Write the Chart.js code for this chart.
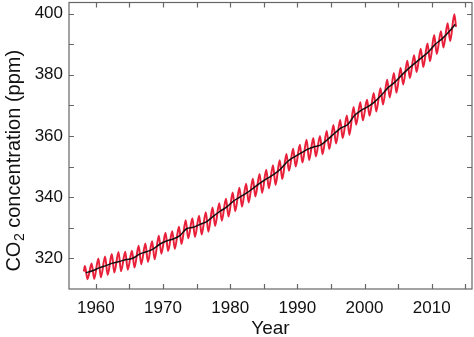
<!DOCTYPE html>
<html>
<head>
<meta charset="utf-8">
<script src="https://cdn.jsdelivr.net/npm/chart.js@4.4.1/dist/chart.umd.min.js"></script>
<style>
  html, body { margin: 0; padding: 0; background: #fff; }
  #wrap { width: 474px; height: 337px; }
</style>
</head>
<body>
<div id="wrap"><canvas id="co2Chart" width="474" height="337"></canvas></div>
<script>
// Mauna Loa CO2, ppm
const years = [
  1958, 1959, 1960, 1961, 1962, 1963, 1964, 1965, 1966, 1967,
  1968, 1969, 1970, 1971, 1972, 1973, 1974, 1975, 1976, 1977,
  1978, 1979, 1980, 1981, 1982, 1983, 1984, 1985, 1986, 1987,
  1988, 1989, 1990, 1991, 1992, 1993, 1994, 1995, 1996, 1997,
  1998, 1999, 2000, 2001, 2002, 2003, 2004, 2005, 2006, 2007,
  2008, 2009, 2010, 2011, 2012, 2013
];
// yearly mean (black line)
const annualMean = [
  315.3, 315.97, 316.91, 317.64, 318.45, 318.99, 319.62, 320.04, 321.38, 322.16,
  323.04, 324.62, 325.68, 326.32, 327.45, 329.68, 330.18, 331.11, 332.04, 333.83,
  335.40, 336.84, 338.75, 340.11, 341.45, 343.05, 344.65, 346.12, 347.42, 349.19,
  351.57, 353.12, 354.39, 355.61, 356.45, 357.10, 358.83, 360.82, 362.61, 363.73,
  366.70, 368.38, 369.55, 371.14, 373.28, 375.80, 377.52, 379.80, 381.90, 383.79,
  385.60, 387.43, 389.90, 391.65, 393.85, 396.52
];
// seasonal high (May) of each year
const mayPeak = [
  317.5, 318.3, 320.0, 320.6, 321.4, 322.1, 322.2, 322.5, 324.1, 324.9,
  325.6, 327.4, 328.4, 328.9, 330.3, 332.5, 333.1, 333.9, 335.1, 336.6,
  338.0, 339.5, 341.5, 343.1, 344.4, 346.0, 347.6, 349.0, 350.4, 352.1,
  354.1, 355.8, 357.1, 358.8, 359.3, 360.0, 361.6, 363.6, 365.2, 366.7,
  369.5, 371.0, 371.8, 374.0, 375.6, 378.4, 380.6, 382.2, 384.6, 386.4,
  388.5, 390.2, 393.0, 394.2, 396.8, 399.8
];
// seasonal low (Sep/Oct), 1958-2012
const autumnLow = [
  313.2, 313.3, 313.8, 314.6, 315.4, 315.8, 316.3, 317.0, 318.1, 318.8,
  319.7, 321.5, 322.4, 323.1, 324.7, 326.6, 327.0, 327.8, 328.7, 330.6,
  332.3, 333.7, 335.4, 336.9, 338.3, 340.2, 341.4, 342.9, 344.0, 345.9,
  348.6, 350.0, 351.3, 352.1, 353.3, 354.0, 355.7, 357.5, 359.3, 360.3,
  363.7, 365.1, 366.6, 368.0, 370.3, 372.6, 374.1, 376.8, 378.9, 380.9,
  382.5, 384.4, 386.8, 388.9, 391.0
];
// first and last monthly readings [decimal year, ppm]
const firstReading = [1958.21, 315.7];
const lastReading = [2013.62, 395.6];

// tick positions (labels only on every other one)
const xTicks = [1960, 1965, 1970, 1975, 1980, 1985, 1990, 1995, 2000, 2005, 2010, 2015];
const yTicks = [320, 330, 340, 350, 360, 370, 380, 390, 400];

const FONT = "'Liberation Sans', Arial, Helvetica, sans-serif";

// red curve: high and low of every year in order
const monthly = [{ x: firstReading[0], y: firstReading[1] }];
years.forEach((yr, i) => {
  monthly.push({ x: yr + 0.37, y: mayPeak[i] });
  if (autumnLow[i] !== undefined) monthly.push({ x: yr + 0.75, y: autumnLow[i] });
});
monthly.push({ x: lastReading[0], y: lastReading[1] });

const trend = years.map((yr, i) => ({ x: yr + 0.5, y: annualMean[i] }));

// box, inward ticks on all four sides, axis titles
const framePlugin = {
  id: 'frame',
  afterDraw(chart) {
    const { ctx, chartArea: a, scales } = chart;
    const len = 5;
    ctx.save();
    ctx.strokeStyle = '#666';
    ctx.lineWidth = 1.2;
    ctx.strokeRect(a.left, a.top, a.right - a.left, a.bottom - a.top);
    ctx.beginPath();
    xTicks.forEach(v => {
      const px = Math.round(scales.x.getPixelForValue(v)) + 0.5;
      ctx.moveTo(px, a.bottom); ctx.lineTo(px, a.bottom - len);
      ctx.moveTo(px, a.top); ctx.lineTo(px, a.top + len);
    });
    yTicks.forEach(v => {
      const py = Math.round(scales.y.getPixelForValue(v)) + 0.5;
      ctx.moveTo(a.left, py); ctx.lineTo(a.left + len, py);
      ctx.moveTo(a.right, py); ctx.lineTo(a.right - len, py);
    });
    ctx.stroke();

    ctx.fillStyle = '#111';
    ctx.font = '19px ' + FONT;
    ctx.textAlign = 'center';
    ctx.textBaseline = 'middle';
    ctx.fillText('Year', (a.left + a.right) / 2, 329);

    // CO2 title with a real subscript
    ctx.translate(14, 161);
    ctx.rotate(-Math.PI / 2);
    ctx.textBaseline = 'middle';
    ctx.textAlign = 'left';
    const big = '20px ' + FONT, small = '14px ' + FONT;
    ctx.font = big;
    const wCO = ctx.measureText('CO').width;
    const wRest = ctx.measureText(' concentration (ppm)').width;
    ctx.font = small;
    const w2 = ctx.measureText('2').width;
    let x = -(wCO + w2 + wRest) / 2;
    ctx.font = big;
    ctx.fillText('CO', x, 0);
    x += wCO;
    ctx.font = small;
    ctx.fillText('2', x + 0.5, 6);
    x += w2 + 0.5;
    ctx.font = big;
    ctx.fillText(' concentration (ppm)', x, 0);
    ctx.restore();
  }
};

const ctx = document.getElementById('co2Chart').getContext('2d');
new Chart(ctx, {
  type: 'line',
  data: {
    datasets: [
      {
        label: 'Annual mean',
        data: trend,
        borderColor: '#111',
        borderWidth: 1.5,
        pointRadius: 0,
        cubicInterpolationMode: 'monotone'
      },
      {
        label: 'Monthly',
        data: monthly,
        borderColor: '#e8203a',
        borderWidth: 2,
        pointRadius: 0,
        cubicInterpolationMode: 'monotone'
      }
    ]
  },
  options: {
    responsive: false,
    animation: false,
    devicePixelRatio: 1,
    layout: { padding: { top: 2.5, right: 2, left: 0, bottom: 0 } },
    plugins: { legend: { display: false }, tooltip: { enabled: false } },
    scales: {
      x: {
        type: 'linear',
        min: 1956,
        max: 2016,
        grid: { display: false, drawTicks: false },
        border: { display: false },
        afterBuildTicks: s => { s.ticks = xTicks.map(v => ({ value: v })); },
        ticks: {
          autoSkip: false,
          maxRotation: 0,
          padding: 9,
          color: '#111',
          font: { family: FONT, size: 17 },
          callback: v => (v % 10 === 0 ? String(v) : '')
        },
        afterFit: s => {
          s.height = 48;
          s.paddingLeft = 0;
          s.paddingRight = 0;
        }
      },
      y: {
        min: 310,
        max: 403.6,
        grid: { display: false, drawTicks: false },
        border: { display: false },
        afterBuildTicks: s => { s.ticks = yTicks.map(v => ({ value: v })); },
        ticks: {
          autoSkip: false,
          padding: 6,
          color: '#111',
          font: { family: FONT, size: 17 },
          callback: v => (v % 20 === 0 ? String(v) : '')
        },
        afterFit: s => {
          s.width = 69;
          s.paddingTop = 0;
          s.paddingBottom = 0;
        }
      }
    }
  },
  plugins: [framePlugin]
});
</script>
</body>
</html>
